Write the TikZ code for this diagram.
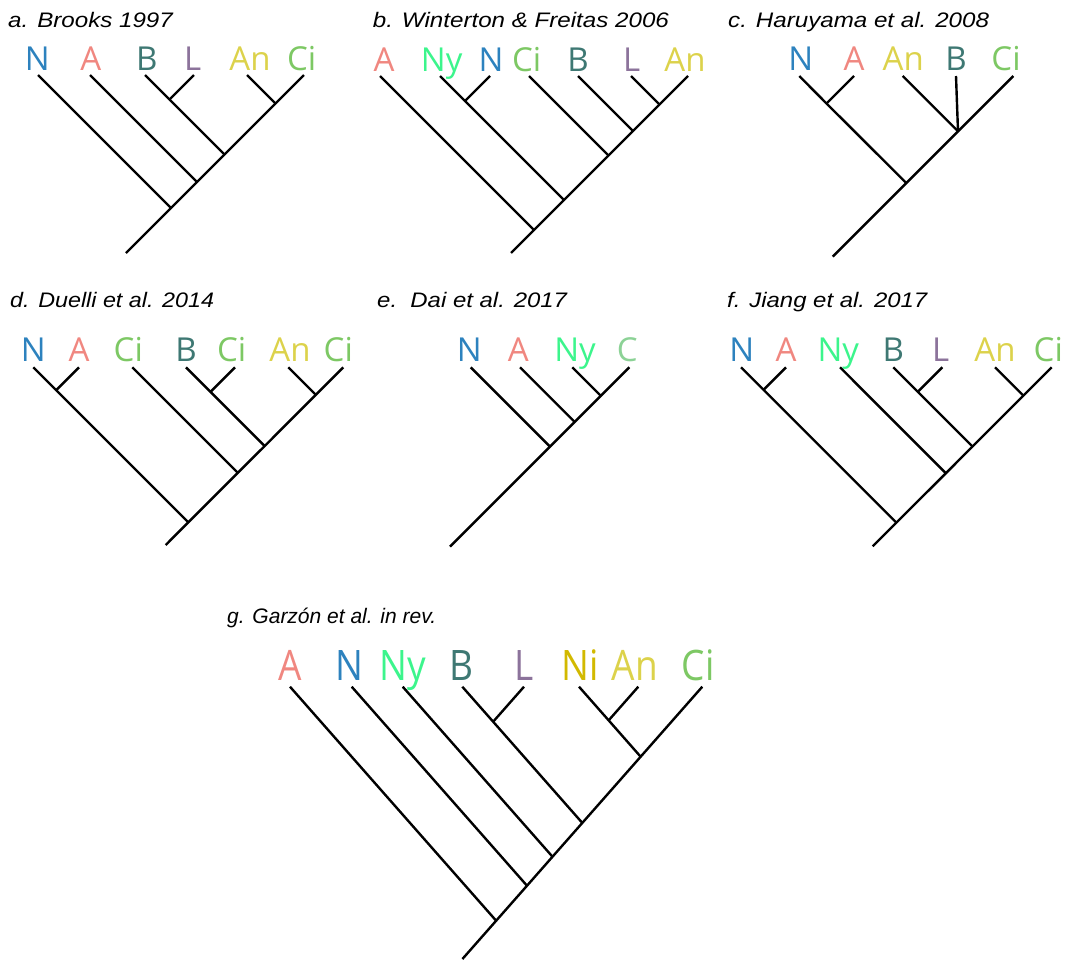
\documentclass[tikz,border=0pt]{standalone}
\usepackage{fontspec}
\usepackage{graphicx}
\newfontfamily\labfont{Open Sans}
\newfontfamily\ttlfont{Liberation Sans}

% taxon colours
\definecolor{colN}{RGB}{45,130,190}
\definecolor{colA}{RGB}{240,135,128}
\definecolor{colNy}{RGB}{60,245,140}
\definecolor{colB}{RGB}{62,120,115}
\definecolor{colL}{RGB}{140,115,155}
\definecolor{colNi}{RGB}{210,185,0}
\definecolor{colAn}{RGB}{220,210,75}
\definecolor{colCi}{RGB}{125,200,100}
\definecolor{colC}{RGB}{140,210,150}

\tikzset{
  br/.style={line width=2.4pt, draw=black},
  lab/.style={anchor=base, inner sep=0pt, font=\labfont\fontsize{33}{36}\selectfont},
  glab/.style={anchor=base, inner sep=0pt, font=\labfont\fontsize{37}{40}\selectfont},
  ttl/.style={anchor=base west, inner sep=0pt, font=\ttlfont\itshape\fontsize{21}{24}\selectfont},
}

% leaf: [style]{name}{tip x}{tip y}{label x}{label baseline}{colour}{text}
\newcommand\leaf[8][lab]{%
  \coordinate (#2) at (#3,#4);
  \node[#1, text=#7] (#2-lab) at (#5,#6) {#8};}
% taller glyphs for the large tree
\newcommand\tall[1]{\scalebox{1}[1.135]{#1}}

\begin{document}
\begin{tikzpicture}[x=1pt, y=-1pt]
\useasboundingbox (0,0) rectangle (1068,959);

% ---------- a. Brooks 1997 ----------
\node[ttl] (ta) at (8,27.3) {\scalebox{1.15}[1]{a. Brooks 1997}};
\leaf{aN}{38}{75}{37.3}{70.7}{colN}{N}
\leaf{aA}{90}{75}{90.7}{70.7}{colA}{A}
\leaf{aB}{145}{75}{146.7}{70.7}{colB}{B}
\leaf{aL}{194}{75}{192.7}{70.7}{colL}{L}
\leaf{aAn}{247}{75}{250}{70.7}{colAn}{An}
\leaf{aCi}{304}{75}{301.7}{70.7}{colCi}{Ci}
\coordinate (a1) at (169.5,99.5);
\coordinate (a2) at (275.5,103.5);
\coordinate (a3) at (224.5,154.5);
\coordinate (a4) at (197,182);
\coordinate (a5) at (171,208);
\coordinate (a0) at (126,253);
\draw[br] (aB) -- (a1) -- (a3);
\draw[br] (aL) -- (a1);
\draw[br] (aAn) -- (a2);
\draw[br] (aCi) -- (a2) -- (a3) -- (a4) -- (a5) -- (a0);
\draw[br] (aA) -- (a4);
\draw[br] (aN) -- (a5);

% ---------- b. Winterton & Freitas 2006 ----------
\node[ttl] (tb) at (372.7,27.3) {\scalebox{1.15}[1]{b. Winterton \& Freitas 2006}};
\leaf{bA}{380}{76}{384}{71.7}{colA}{A}
\leaf{bNy}{440}{76}{441.7}{71.7}{colNy}{Ny}
\leaf{bN}{490}{76}{491}{71.7}{colN}{N}
\leaf{bCi}{529}{76}{526.7}{71.7}{colCi}{Ci}
\leaf{bB}{578}{76}{578}{71.7}{colB}{B}
\leaf{bL}{631}{76}{631.7}{71.7}{colL}{L}
\leaf{bAn}{688}{76}{685}{71.7}{colAn}{An}
\coordinate (b1) at (465,101);
\coordinate (b2) at (659.5,104.5);
\coordinate (b3) at (633,131);
\coordinate (b4) at (608.5,155.5);
\coordinate (b5) at (564,200);
\coordinate (b6) at (534,230);
\coordinate (b0) at (511,253);
\draw[br] (bNy) -- (b1) -- (b5);
\draw[br] (bN) -- (b1);
\draw[br] (bL) -- (b2);
\draw[br] (bAn) -- (b2) -- (b3) -- (b4) -- (b5) -- (b6) -- (b0);
\draw[br] (bB) -- (b3);
\draw[br] (bCi) -- (b4);
\draw[br] (bA) -- (b6);

% ---------- c. Haruyama et al. 2008 ----------
\node[ttl] (tc) at (728,27.3) {\scalebox{1.15}[1]{c. Haruyama et al. 2008}};
\leaf{cN}{799.3}{76}{800.7}{70.7}{colN}{N}
\leaf{cA}{854}{76}{854}{70.7}{colA}{A}
\leaf{cAn}{902.7}{76}{903.3}{70.7}{colAn}{An}
\leaf{cB}{956}{76}{956}{70.7}{colB}{B}
\leaf{cCi}{1013.3}{76}{1006}{70.7}{colCi}{Ci}
\coordinate (c1) at (826.5,103.5);
\coordinate (c2) at (958,131.3);
\coordinate (c3) at (906.3,183);
\coordinate (c0) at (832.7,256.6);
\draw[br] (cN) -- (c1) -- (c3);
\draw[br] (cA) -- (c1);
\draw[br] (cAn) -- (c2);
\draw[br] (cB) -- (c2);
\draw[br] (cCi) -- (c2) -- (c3) -- (c0);

% ---------- d. Duelli et al. 2014 ----------
\node[ttl] (td) at (10,307.3) {\scalebox{1.11}[1]{d. Duelli et al. 2014}};
\leaf{dN}{33.3}{367.3}{33.3}{361.7}{colN}{N}
\leaf{dA}{79}{367.3}{79}{361.7}{colA}{A}
\leaf{dCa}{132.3}{367.3}{128.3}{361.7}{colCi}{Ci}
\leaf{dB}{186}{367.3}{186}{361.7}{colB}{B}
\leaf{dCb}{235}{367.3}{231.7}{361.7}{colCi}{Ci}
\leaf{dAn}{288.3}{367.3}{290}{361.7}{colAn}{An}
\leaf{dCc}{343.3}{367.3}{338.3}{361.7}{colCi}{Ci}
\coordinate (d1) at (56.2,390.2);
\coordinate (d2) at (210.5,391.8);
\coordinate (d3) at (315.8,394.8);
\coordinate (d4) at (264.7,446);
\coordinate (d5) at (237.8,472.8);
\coordinate (d6) at (188.3,522.3);
\coordinate (d0) at (165.7,545);
\draw[br] (dN) -- (d1) -- (d6);
\draw[br] (dA) -- (d1);
\draw[br] (dCa) -- (d5);
\draw[br] (dB) -- (d2) -- (d4);
\draw[br] (dCb) -- (d2);
\draw[br] (dAn) -- (d3);
\draw[br] (dCc) -- (d3) -- (d4) -- (d5) -- (d6) -- (d0);

% ---------- e. Dai et al. 2017 ----------
\node[ttl] (te) at (377,307.3) {\scalebox{1.14}[1]{e.\ \ Dai et al. 2017}};
\leaf{eN}{470.7}{367.3}{469.3}{361.7}{colN}{N}
\leaf{eA}{520}{367.3}{518.3}{361.7}{colA}{A}
\leaf{eNy}{572.3}{367.3}{575}{361.7}{colNy}{Ny}
\leaf{eC}{629.3}{367.3}{627.3}{361.7}{colC}{C}
\coordinate (e1) at (600.8,395.8);
\coordinate (e2) at (574.7,421.9);
\coordinate (e3) at (550,446.6);
\coordinate (e0) at (450,546.6);
\draw[br] (eNy) -- (e1);
\draw[br] (eC) -- (e1) -- (e2) -- (e3) -- (e0);
\draw[br] (eA) -- (e2);
\draw[br] (eN) -- (e3);

% ---------- f. Jiang et al. 2017 ----------
\node[ttl] (tf) at (727,307.3) {\scalebox{1.14}[1]{f. Jiang et al. 2017}};
\leaf{fN}{741}{367.3}{741.7}{361.7}{colN}{N}
\leaf{fA}{786}{367.3}{786}{361.7}{colA}{A}
\leaf{fNy}{840}{367.3}{838.3}{361.7}{colNy}{Ny}
\leaf{fB}{893.3}{367.3}{893.3}{361.7}{colB}{B}
\leaf{fL}{942.3}{367.3}{940.7}{361.7}{colL}{L}
\leaf{fAn}{995}{367.3}{995}{361.7}{colAn}{An}
\leaf{fCi}{1051.7}{367.3}{1048.3}{361.7}{colCi}{Ci}
\coordinate (f1) at (763.5,389.8);
\coordinate (f2) at (917.8,391.8);
\coordinate (f3) at (1023.35,395.65);
\coordinate (f4) at (972.5,446.5);
\coordinate (f5) at (945.85,473.2);
\coordinate (f6) at (896.35,522.65);
\coordinate (f0) at (872.7,546.3);
\draw[br] (fN) -- (f1) -- (f6);
\draw[br] (fA) -- (f1);
\draw[br] (fNy) -- (f5);
\draw[br] (fB) -- (f2) -- (f4);
\draw[br] (fL) -- (f2);
\draw[br] (fAn) -- (f3);
\draw[br] (fCi) -- (f3) -- (f4) -- (f5) -- (f6) -- (f0);

% ---------- g. Garzón et al. in rev. ----------
\node[ttl] (tg) at (227,623.3) {g. Garzón et al. in rev.};
\leaf[glab]{gA}{290}{686.7}{290.7}{680}{colA}{\tall{A}}
\leaf[glab]{gN}{351.7}{686.7}{349.3}{680}{colN}{\tall{N}}
\leaf[glab]{gNy}{402.7}{686.7}{402.7}{680}{colNy}{\tall{Ny}}
\leaf[glab]{gB}{462.3}{686.7}{461.7}{680}{colB}{\tall{B}}
\leaf[glab]{gL}{524}{686.7}{524}{680}{colL}{\tall{L}}
\leaf[glab]{gNi}{579}{686.7}{580}{680}{colNi}{\tall{Ni}}
\leaf[glab]{gAn}{638.3}{686.7}{635}{680}{colAn}{\tall{An}}
\leaf[glab]{gCi}{702.3}{686.7}{698.3}{680}{colCi}{\tall{Ci}}
\coordinate (g1) at (493.15,721.7);
\coordinate (g2) at (608.65,720.35);
\coordinate (g3) at (640.65,756.7);
\coordinate (g4) at (582.3,822.9);
\coordinate (g5) at (552.5,856.7);
\coordinate (g6) at (527,885.7);
\coordinate (g7) at (496.15,920.7);
\coordinate (g0) at (462.4,959);
\draw[br] (gB) -- (g1) -- (g4);
\draw[br] (gL) -- (g1);
\draw[br] (gNi) -- (g2) -- (g3);
\draw[br] (gAn) -- (g2);
\draw[br] (gCi) -- (g3) -- (g4) -- (g5) -- (g6) -- (g7) -- (g0);
\draw[br] (gNy) -- (g5);
\draw[br] (gN) -- (g6);
\draw[br] (gA) -- (g7);
\end{tikzpicture}
\end{document}
